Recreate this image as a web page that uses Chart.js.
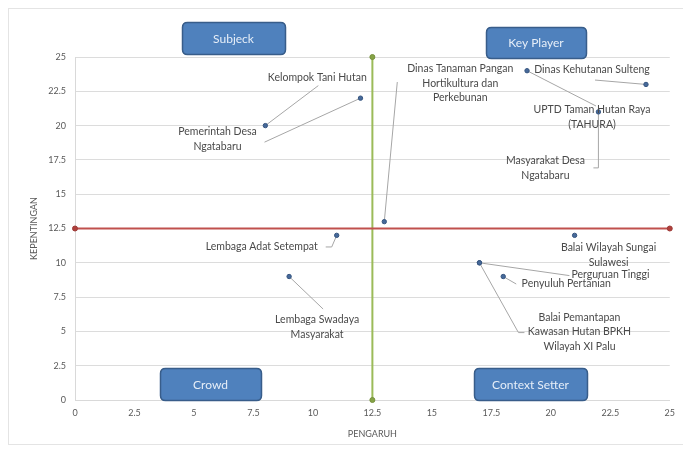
<!DOCTYPE html>
<html>
<head>
<meta charset="utf-8">
<script src="https://cdn.jsdelivr.net/npm/chart.js@4/dist/chart.umd.min.js"></script>
<style>
  html, body { margin: 0; padding: 0; background: #ffffff; }
  #wrap { width: 683px; height: 452px; position: relative; }
</style>
</head>
<body>
<div id="wrap"><canvas id="matriks"></canvas></div>
<script>
// Stakeholder matrix: influence (PENGARUH) vs. interest (KEPENTINGAN)
const stakeholders = [
  "Kelompok Tani Hutan",
  "Pemerintah Desa Ngatabaru",
  "Dinas Tanaman Pangan Hortikultura dan Perkebunan",
  "Dinas Kehutanan Sulteng",
  "UPTD Taman Hutan Raya (TAHURA)",
  "Masyarakat Desa Ngatabaru",
  "Lembaga Adat Setempat",
  "Lembaga Swadaya Masyarakat",
  "Balai Wilayah Sungai Sulawesi",
  "Perguruan Tinggi",
  "Penyuluh Pertanian",
  "Balai Pemantapan Kawasan Hutan BPKH Wilayah XI Palu"
];
const pengaruh    = [8, 12, 13, 24, 19, 22, 11, 9, 21, 17, 18, 17];
const kepentingan = [20, 22, 13, 23, 24, 21, 12, 9, 12, 10, 9, 10];

// wrapped label text for each stakeholder
const labelLines = [
  ["Kelompok Tani Hutan"],
  ["Pemerintah Desa", "Ngatabaru"],
  ["Dinas Tanaman Pangan", "Hortikultura dan", "Perkebunan"],
  ["Dinas Kehutanan Sulteng"],
  ["UPTD Taman Hutan Raya", "(TAHURA)"],
  ["Masyarakat Desa", "Ngatabaru"],
  ["Lembaga Adat Setempat"],
  ["Lembaga Swadaya", "Masyarakat"],
  ["Balai Wilayah Sungai", "Sulawesi"],
  ["Perguruan Tinggi"],
  ["Penyuluh Pertanian"],
  ["Balai Pemantapan", "Kawasan Hutan BPKH", "Wilayah XI Palu"]
];

const axisMin = 0;
const axisMax = 25;
const axisStep = 2.5;
const batasPengaruh = 12.5;     // vertical divider
const batasKepentingan = 12.5;  // horizontal divider
const quadrantNames = ["Subjeck", "Key Player", "Crowd", "Context Setter"];
const xTitle = "PENGARUH";
const yTitle = "KEPENTINGAN";

// label placement: offset of the first text line from its point, and leader path (offsets)
const labelLayout = [
  { dx: 52,   dy: -47.6, leader: [[53, -40]] },
  { dx: -143, dy: 33.8,  leader: [[-96, 44]] },
  { dx: 76,   dy: -152.6, leader: [[13, -139.6]] },
  { dx: -54,  dy: -14.4, leader: [[-51, -4.4]] },
  { dx: 65,   dy: 39.3,  leader: [[69, 35.3]] },
  { dx: -53,  dy: 49,    leader: [[0, 56], [-5, 56]] },
  { dx: -75,  dy: 11.6,  leader: [[-5, 11.6], [-11, 11.6]] },
  { dx: 28,   dy: 43.5,  leader: [[34, 32.5]] },
  { dx: 34,   dy: 12.6,  leader: null },
  { dx: 131,  dy: 11.8,  leader: [[90, 12.8]] },
  { dx: 63,   dy: 7.5,   leader: [[13, 7.5]] },
  { dx: 100,  dy: 54.8,  leader: [[39, 69.8], [45, 69.8]] }
];
const labelLineHeight = 14.5;

// quadrant title boxes (canvas pixels)
const quadrantBoxes = [
  { x: 182, y: 22,  w: 103, h: 32 },
  { x: 486, y: 27,  w: 100, h: 31 },
  { x: 160, y: 368, w: 101, h: 32 },
  { x: 474, y: 368, w: 113, h: 32 }
];

const FONT = "Lato, 'Open Sans', sans-serif";

function roundRect(ctx, x, y, w, h, r) {
  ctx.beginPath();
  ctx.moveTo(x + r, y);
  ctx.lineTo(x + w - r, y);
  ctx.quadraticCurveTo(x + w, y, x + w, y + r);
  ctx.lineTo(x + w, y + h - r);
  ctx.quadraticCurveTo(x + w, y + h, x + w - r, y + h);
  ctx.lineTo(x + r, y + h);
  ctx.quadraticCurveTo(x, y + h, x, y + h - r);
  ctx.lineTo(x, y + r);
  ctx.quadraticCurveTo(x, y, x + r, y);
  ctx.closePath();
}

const annotate = {
  id: 'annotate',
  beforeDraw(chart) {
    const ctx = chart.ctx;
    ctx.save();
    ctx.strokeStyle = '#e4e4e4';
    ctx.lineWidth = 1;
    ctx.strokeRect(8.5, 8.5, 700, 436);
    ctx.restore();
  },
  beforeDatasetsDraw(chart) {
    const ctx = chart.ctx, xs = chart.scales.x, ys = chart.scales.y;
    ctx.save();
    ctx.strokeStyle = '#a6a6a6';
    ctx.lineWidth = 1;
    stakeholders.forEach((name, i) => {
      const L = labelLayout[i];
      if (!L.leader) return;
      const px = xs.getPixelForValue(pengaruh[i]);
      const py = ys.getPixelForValue(kepentingan[i]);
      ctx.beginPath();
      ctx.moveTo(px, py);
      L.leader.forEach(([a, b]) => ctx.lineTo(px + a, py + b));
      ctx.stroke();
    });
    ctx.restore();
  },
  afterDatasetsDraw(chart) {
    const ctx = chart.ctx, xs = chart.scales.x, ys = chart.scales.y;
    ctx.save();
    ctx.fillStyle = '#4a4a4a';
    ctx.font = '10.5px ' + FONT;
    ctx.textAlign = 'center';
    ctx.textBaseline = 'middle';
    stakeholders.forEach((name, i) => {
      const L = labelLayout[i];
      const px = xs.getPixelForValue(pengaruh[i]);
      const py = ys.getPixelForValue(kepentingan[i]);
      labelLines[i].forEach((t, k) => {
        ctx.fillText(t, px + L.dx, py + L.dy + k * labelLineHeight);
      });
    });
    ctx.restore();
  },
  afterDraw(chart) {
    const ctx = chart.ctx;
    ctx.save();
    quadrantBoxes.forEach((b, i) => {
      roundRect(ctx, b.x + 0.5, b.y + 0.5, b.w, b.h, 5);
      ctx.fillStyle = '#4f81bd';
      ctx.fill();
      ctx.strokeStyle = '#385d8a';
      ctx.lineWidth = 1.5;
      ctx.stroke();
      ctx.fillStyle = '#e6eef8';
      ctx.font = '12px ' + FONT;
      ctx.textAlign = 'center';
      ctx.textBaseline = 'middle';
      ctx.fillText(quadrantNames[i], b.x + b.w / 2, b.y + b.h / 2 + 1);
    });
    ctx.restore();
  }
};

const points = stakeholders.map((n, i) => ({ x: pengaruh[i], y: kepentingan[i] }));

new Chart(document.getElementById('matriks'), {
  type: 'scatter',
  data: {
    datasets: [
      {
        data: [{ x: axisMin, y: batasKepentingan }, { x: axisMax, y: batasKepentingan }],
        showLine: true,
        borderColor: '#c0504d',
        borderWidth: 2,
        pointRadius: 2.5,
        pointBorderWidth: 1,
        pointBackgroundColor: '#b0403c',
        pointBorderColor: '#9c3a37',
        clip: false
      },
      {
        data: [{ x: batasPengaruh, y: axisMin }, { x: batasPengaruh, y: axisMax }],
        showLine: true,
        borderColor: '#9bbb59',
        borderWidth: 2,
        pointRadius: 2.5,
        pointBorderWidth: 1,
        pointBackgroundColor: '#86a346',
        pointBorderColor: '#76913d',
        clip: false
      },
      {
        data: points,
        pointRadius: 2.2,
        pointBackgroundColor: '#46699a',
        pointBorderColor: '#36557f',
        pointBorderWidth: 1,
        clip: false
      }
    ]
  },
  options: {
    responsive: true,
    maintainAspectRatio: false,
    animation: false,
    events: [],
    layout: { padding: { top: 57, right: 8, bottom: 7, left: 8 } },
    plugins: { legend: { display: false }, tooltip: { enabled: false } },
    scales: {
      x: {
        type: 'linear',
        min: axisMin,
        max: axisMax,
        ticks: { stepSize: axisStep, color: '#595959', font: { family: FONT, size: 9 }, padding: 8, maxRotation: 0 },
        grid: { display: false, drawTicks: false },
        border: { display: true, color: '#d9d9d9' },
        title: { display: true, text: xTitle, color: '#595959', font: { family: FONT, size: 9 }, padding: { top: 0, bottom: 5.6 } },
        afterFit(s) { s.height = 45; }
      },
      y: {
        type: 'linear',
        min: axisMin,
        max: axisMax,
        ticks: { stepSize: axisStep, color: '#595959', font: { family: FONT, size: 9 }, padding: 9 },
        grid: { color: '#dcdcdc', drawTicks: false },
        border: { display: true, color: '#d9d9d9' },
        title: { display: true, text: yTitle, color: '#595959', font: { family: FONT, size: 9 }, padding: { top: 21, bottom: 0 } },
        afterFit(s) { s.width = 67; }
      }
    }
  },
  plugins: [annotate]
});
</script>
</body>
</html>
